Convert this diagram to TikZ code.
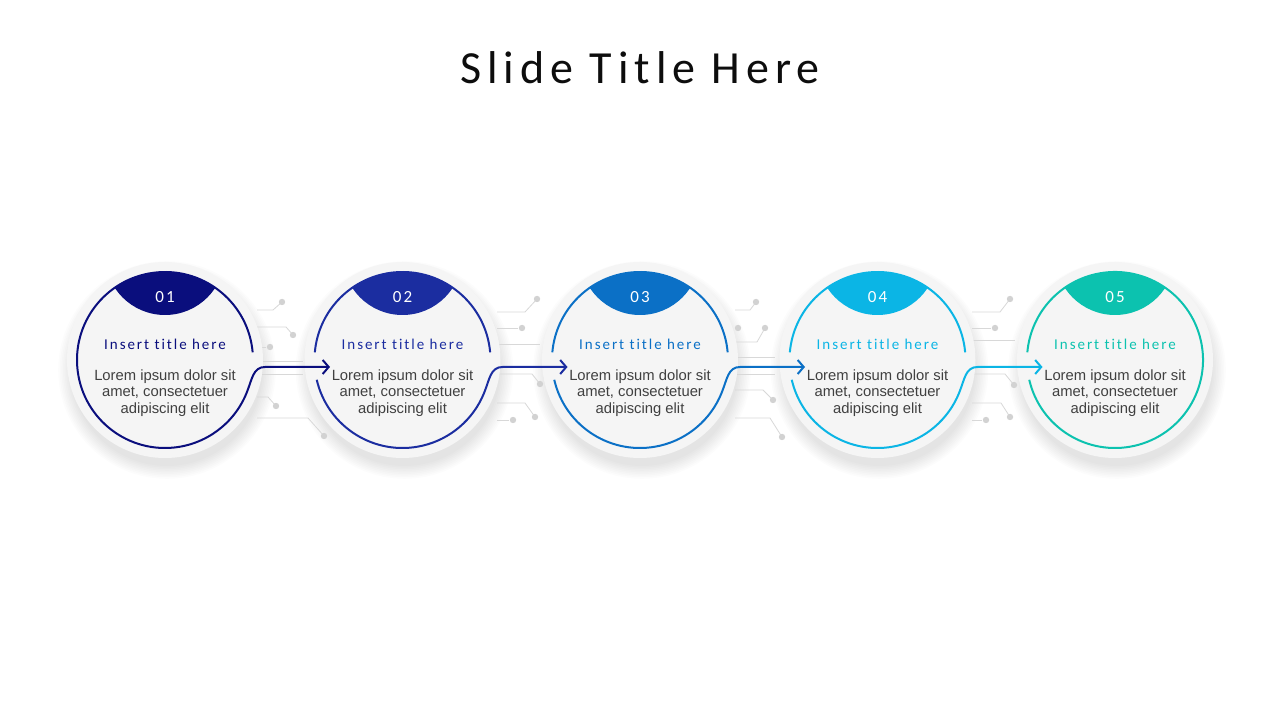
\documentclass[tikz,border=0pt]{standalone}
\usepackage{fontspec}
\setmainfont{Carlito}
\newfontfamily\bodyfont{Liberation Sans}
\newfontfamily\numfont[LetterSpace=12,Ligatures=NoCommon]{Carlito}
\newfontfamily\headfont[LetterSpace=13,Ligatures=NoCommon]{Carlito}
\newfontfamily\titlefont[LetterSpace=13,Ligatures=NoCommon]{Carlito}
\usetikzlibrary{arrows.meta}
\definecolor{cA}{HTML}{0A0E7D}
\definecolor{cB}{HTML}{1B2DA0}
\definecolor{cC}{HTML}{0B70C6}
\definecolor{cD}{HTML}{0BB5E5}
\definecolor{cE}{HTML}{0CC2AF}
\definecolor{bodygray}{HTML}{404040}
\definecolor{discfill}{HTML}{F5F5F5}
\definecolor{wiregray}{HTML}{D8D8D8}
\definecolor{pingray}{HTML}{D2D2D2}
\definecolor{titleblack}{HTML}{0D0D0D}
\tikzset{
  wire/.style={draw=wiregray, line width=0.8pt},
  pin/.style={fill=pingray},
  disc/.style={circle, fill=discfill, minimum size=196pt, inner sep=0pt, outer sep=0pt},
  ringnode/.style={circle, minimum size=176pt, inner sep=0pt, outer sep=0pt},
  ringline/.style={line width=2pt},
  flow/.style={line width=2pt, -{Straight Barb[length=6pt,width=14pt,line width=2pt]}},
  numtxt/.style={font=\numfont\fontsize{17}{20}\selectfont, text=white, anchor=base, inner sep=0pt},
  headtxt/.style={font=\headfont\fontsize{15}{18}\selectfont, anchor=base, inner sep=0pt},
  bodytxt/.style={font=\bodyfont\fontsize{14.8}{16.8}\selectfont, text=bodygray, align=center, inner sep=0pt}
}
\begin{document}
\begin{tikzpicture}[x=1pt,y=1pt]
\useasboundingbox (0,0) rectangle (1280,720);
\fill[white] (0,0) rectangle (1280,720);

% title
\node[font=\titlefont\fontsize{46}{50}\selectfont, text=titleblack, anchor=base, inner sep=0pt] (title) at (640,636) {Slide Title Here};

% shadows
\foreach \x in {165,402.5,640,877.5,1115}{
  \foreach \k in {0,...,8}{
    \fill[black, opacity=0.012] (\x+2,350) circle ({96+\k*1.6});
  }
}

% circuit decorations (screen coordinates)
\begin{scope}[shift={(0,720)}, yscale=-1]
  % gap 1
  \draw[wire] (257,310) -- (273,310) -- (282,302);
  \draw[wire] (257,327) -- (286,327) -- (293,335);
  \draw[wire] (257,347) -- (266,347);
  \draw[wire] (257,361) -- (303,361);
  \draw[wire] (257,374) -- (303,374);
  \draw[wire] (257,397) -- (268,397) -- (276,406);
  \draw[wire] (257,418) -- (308,418) -- (324,436);
  \foreach \p in {(282,302),(293,335),(270,347),(276,406),(324,436)} \fill[pin] \p circle (3.2);
  % gap 2
  \draw[wire] (497,312) -- (525,312) -- (537,299);
  \draw[wire] (497,328) -- (518,328);
  \draw[wire] (497,344) -- (540,344);
  \draw[wire] (497,374) -- (532,374) -- (540,384);
  \draw[wire] (497,403) -- (525,403) -- (535,417);
  \draw[wire] (497,420) -- (509,420);
  \foreach \p in {(537,299),(522,328),(540,384),(535,417),(513,420)} \fill[pin] \p circle (3.2);
  % gap 3
  \draw[wire] (735,310) -- (750,310) -- (756,302);
  \draw[wire] (735,342) -- (757,342) -- (765,328);
  \draw[wire] (735,357) -- (775,357);
  \draw[wire] (735,374) -- (775,374);
  \draw[wire] (735,390) -- (763,390) -- (773,400);
  \draw[wire] (735,418) -- (770,418) -- (782,437);
  \foreach \p in {(756,302),(738,328),(765,328),(773,400),(782,437)} \fill[pin] \p circle (3.2);
  % gap 4
  \draw[wire] (972,312) -- (1000,312) -- (1010,299);
  \draw[wire] (972,328) -- (991,328);
  \draw[wire] (972,340) -- (1015,340);
  \draw[wire] (972,374) -- (1005,374) -- (1014,385);
  \draw[wire] (972,403) -- (1001,403) -- (1010,417);
  \draw[wire] (972,420) -- (982,420);
  \foreach \p in {(1010,299),(995,328),(1014,385),(1010,417),(986,420)} \fill[pin] \p circle (3.2);
\end{scope}

% discs, caps, texts
\foreach \i/\x/\c in {1/165/cA,2/402.5/cB,3/640/cC,4/877.5/cD,5/1115/cE}{
  \node[disc] (d\i) at (\x,360) {};
  \node[ringnode] (r\i) at (\x,360) {};
  \begin{scope}
    \clip (\x,360) circle (88);
    \fill[\c] (\x,465) circle (60);
  \end{scope}
  \node[numtxt] (n\i) at (\x,417) {0\i};
  \node[headtxt, text=\c] (h\i) at (\x,370) {Insert title here};
  \node[bodytxt] (b\i) at (\x,327) {Lorem ipsum dolor sit\\amet, consectetuer\\adipiscing elit};
}

% connector coordinates
\coordinate (k1) at (265,353);   \coordinate (tip2) at (330,353);
\coordinate (k2) at (502.5,353); \coordinate (tip3) at (567.5,353);
\coordinate (k3) at (740,353);   \coordinate (tip4) at (805,353);
\coordinate (k4) at (977.5,353); \coordinate (tip5) at (1042.5,353);

% rings and connectors
\draw[flow, cA] (r1.5) arc[start angle=5, end angle=338, radius=88] .. controls +(68:15) and +(-12,0) .. (k1) -- (tip2);

\draw[ringline, cB] (r2.5) arc[start angle=5, end angle=175, radius=88];
\draw[flow, cB] (r2.193) arc[start angle=193, end angle=338, radius=88] .. controls +(68:15) and +(-12,0) .. (k2) -- (tip3);

\draw[ringline, cC] (r3.5) arc[start angle=5, end angle=175, radius=88];
\draw[flow, cC] (r3.193) arc[start angle=193, end angle=338, radius=88] .. controls +(68:15) and +(-12,0) .. (k3) -- (tip4);

\draw[ringline, cD] (r4.5) arc[start angle=5, end angle=175, radius=88];
\draw[flow, cD] (r4.193) arc[start angle=193, end angle=338, radius=88] .. controls +(68:15) and +(-12,0) .. (k4) -- (tip5);

\draw[ringline, cE] (r5.193) arc[start angle=193, end angle=535, radius=88];
\end{tikzpicture}
\end{document}
